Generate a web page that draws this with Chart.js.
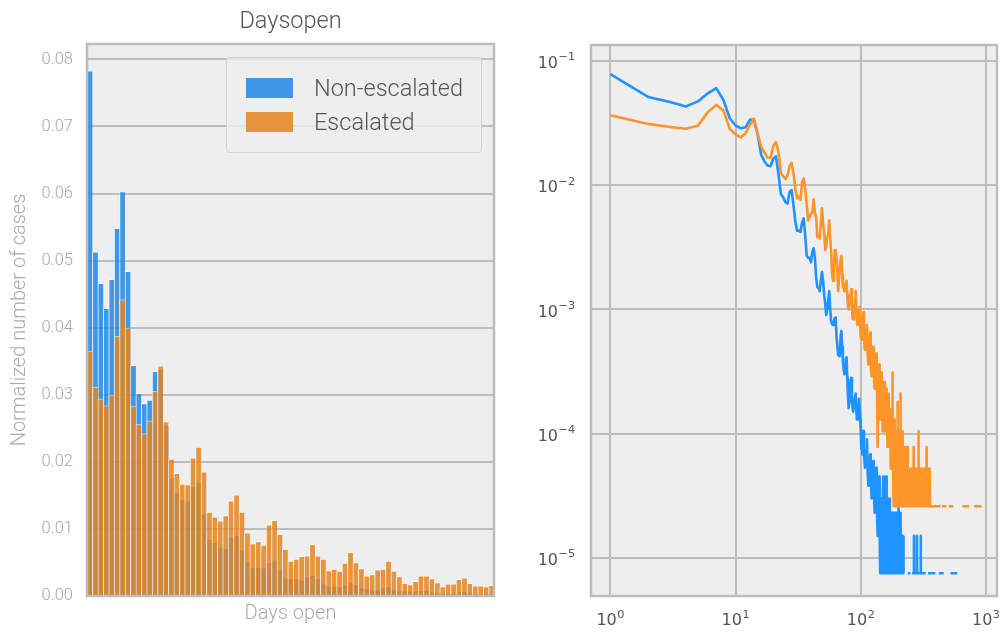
<!DOCTYPE html>
<html>
<head>
<meta charset="utf-8">
<script src="https://cdn.jsdelivr.net/npm/chart.js@4.4.1/dist/chart.umd.min.js"></script>
<style>
  html, body { margin: 0; padding: 0; background: #ffffff; }
  #page { position: relative; width: 1005px; height: 633px; overflow: hidden; }
  #histCanvas { position: absolute; left: 0; top: 0; }
  #logCanvas { position: absolute; left: 500px; top: 0; }
  #histLegend {
    position: absolute; left: 226px; top: 57px; width: 254px; height: 94px;
    border: 1px solid #d2d2d2; border-radius: 4px; background: rgba(238,238,238,0.8);
    font-family: Roboto, "Open Sans", sans-serif; font-weight: 300; font-size: 23.5px; color: #555;
  }
  .legend-item { position: absolute; left: 19px; height: 20px; display: flex; align-items: center; white-space: nowrap; }
  .legend-swatch { width: 47px; height: 20px; margin-right: 21px; flex: none; }
</style>
</head>
<body>
<div id="page">
  <canvas id="histCanvas" width="500" height="633"></canvas>
  <canvas id="logCanvas" width="505" height="633"></canvas>
  <div id="histLegend"></div>
</div>
<script>
// ---- data -------------------------------------------------------------
// Days open (1..75), one histogram bin per day
const daysOpen = [1,2,3,4,5,6,7,8,9,10,11,12,13,14,15,16,17,18,19,20,
  21,22,23,24,25,26,27,28,29,30,31,32,33,34,35,36,37,38,39,40,
  41,42,43,44,45,46,47,48,49,50,51,52,53,54,55,56,57,58,59,60,
  61,62,63,64,65,66,67,68,69,70,71,72,73,74,75];

// Share of cases closed after N days (days 1..75)
const nonEscalatedShare = [
  0.0783,0.0513,0.0466,0.0429,0.0472,0.0548,0.0603,0.0484,0.0344,0.0302,
  0.0287,0.0292,0.0335,0.0338,0.0255,0.0176,0.0155,0.0144,0.0142,0.0163,
  0.0170,0.0123,0.0085,0.0080,0.0073,0.0071,0.0088,0.0091,0.0069,0.0051,
  0.0043,0.0043,0.0042,0.0050,0.0054,0.0039,0.0027,0.0026,0.0026,0.0024,
  0.0029,0.0031,0.0026,0.0018,0.0015,0.0015,0.0014,0.0017,0.0020,0.0017,
  0.0013,0.0011,0.0009,0.0010,0.0012,0.0014,0.0010,0.0008,0.00076,0.00075,
  0.0008,0.00085,0.00086,0.0006,0.0005,0.00043,0.00042,0.00045,0.0006,0.00067,
  0.0005,0.00038,0.00033,0.0003,0.00034];
const escalatedShare = [
  0.0365,0.0311,0.0294,0.0284,0.0300,0.0387,0.0442,0.0400,0.0283,0.0256,
  0.0242,0.0261,0.0305,0.0343,0.0260,0.0204,0.0183,0.0167,0.0166,0.0206,
  0.0222,0.0185,0.0125,0.0118,0.0112,0.0120,0.0142,0.0151,0.0125,0.0094,
  0.0078,0.0081,0.0076,0.0106,0.0113,0.0092,0.0070,0.0052,0.0055,0.0059,
  0.0060,0.0077,0.0060,0.0055,0.0038,0.0040,0.0037,0.0049,0.0065,0.0050,
  0.0041,0.0030,0.0032,0.0039,0.0040,0.0052,0.0037,0.0029,0.0019,0.0017,
  0.0022,0.0030,0.0030,0.0026,0.0020,0.0014,0.0018,0.0018,0.0025,0.0027,
  0.0019,0.0015,0.0015,0.0014,0.0016];

// Daily shares beyond day 75 (first entry is day 76)
const longTailStartDay = 76;
const nonEscalatedLongTail = [
  4.0e-4,4.1e-4,2.8e-4,2.0e-4,1.6e-4,1.8e-4,2.2e-4,2.6e-4,2.8e-4,2.0e-4,
  1.6e-4,1.5e-4,1.5e-4,1.8e-4,2.0e-4,2.1e-4,1.6e-4,1.3e-4,1.3e-4,1.5e-4,
  1.7e-4,1.9e-4,1.9e-4,1.3e-4,1.05e-4,7.5e-5,9e-5,6.8e-5,8.3e-5,1.05e-4,
  7.5e-5,6e-5,5.3e-5,6e-5,6.8e-5,7.5e-5,9e-5,6e-5,4.5e-5,3.8e-5,
  4.5e-5,5.3e-5,6e-5,6.8e-5,4.5e-5,3.8e-5,3e-5,3.8e-5,4.5e-5,5.3e-5,
  6e-5,3.8e-5,3e-5,2.3e-5,3e-5,3.8e-5,4.5e-5,5.3e-5,3e-5,2.3e-5,
  1.5e-5,2.3e-5,3e-5,3.8e-5,4.5e-5,2.3e-5,1.5e-5,7.5e-6,1.5e-5,2.3e-5,
  3e-5,3e-5,1.5e-5,7.5e-6,2.3e-5,4.5e-5,7.5e-6,1.5e-5,3.8e-5,7.5e-6,
  7.5e-6,2.3e-5,1.5e-5,7.5e-6,4.5e-5,1.5e-5,7.5e-6,3e-5,7.5e-6,1.5e-5,
  7.5e-6,2.3e-5,1.5e-5,7.5e-6,1.5e-5,3e-5,7.5e-6,7.5e-6,2.3e-5,1.5e-5,
  7.5e-6,1.5e-5,2.3e-5,7.5e-6,1.5e-5,7.5e-6,2.3e-5,7.5e-6,1.5e-5,1.5e-5,
  7.5e-6,7.5e-6,2.3e-5,1.5e-5,7.5e-6,1.5e-5,7.5e-6,2.3e-5,7.5e-6,7.5e-6,
  1.5e-5,7.5e-6,1.5e-5,7.5e-6,3e-5,7.5e-6,1.5e-5,7.5e-6,7.5e-6,1.5e-5,
  7.5e-6,2.3e-5,7.5e-6,1.5e-5,7.5e-6,7.5e-6,1.5e-5,7.5e-6,1.5e-5,7.5e-6,
  7.5e-6,1.5e-5,7.5e-6,7.5e-6,1.5e-5];
const escalatedLongTail = [
  1.5e-3,1.7e-3,1.3e-3,1.05e-3,1.0e-3,1.1e-3,1.2e-3,1.35e-3,1.45e-3,1.1e-3,
  8.5e-4,8.3e-4,9e-4,1.0e-3,1.2e-3,1.4e-3,1.0e-3,8e-4,7.5e-4,7.8e-4,
  8.8e-4,1.0e-3,1.05e-3,7.5e-4,6e-4,5.7e-4,6.5e-4,7.5e-4,8.5e-4,9.5e-4,
  6.5e-4,5e-4,4.7e-4,5.2e-4,6e-4,7e-4,7.5e-4,5e-4,4e-4,3.6e-4,
  4.2e-4,4.7e-4,5.5e-4,6.5e-4,4.2e-4,3.1e-4,2.9e-4,3.4e-4,3.9e-4,4.4e-4,
  5e-4,3.4e-4,2.6e-4,2.3e-4,2.9e-4,3.1e-4,3.6e-4,4.4e-4,2.9e-4,2.1e-4,
  1.8e-4,7.8e-5,2.3e-4,2.9e-4,3.6e-4,2.3e-4,1.6e-4,1.3e-4,1.8e-4,2.3e-4,
  2.6e-4,3.1e-4,1.8e-4,1.3e-4,1.04e-4,1.6e-4,2.1e-4,2.3e-4,2.6e-4,1.6e-4,
  1.04e-4,1.3e-4,1.6e-4,1.8e-4,2.1e-4,2.3e-4,1.3e-4,1.04e-4,7.8e-5,1.3e-4,
  1.6e-4,1.8e-4,2.1e-4,1.04e-4,1.04e-4,7.8e-5,1.3e-4,5.2e-5,1.04e-4,1.56e-4,
  7.8e-5,5.2e-5,1.04e-4,3.1e-4,7.8e-5,5.2e-5,1.04e-4,2.6e-5,7.8e-5,5.2e-5,
  1.3e-4,5.2e-5,2.6e-5,7.8e-5,1.04e-4,5.2e-5,2.6e-5,7.8e-5,5.2e-5,1.04e-4,
  1.8e-4,5.2e-5,2.6e-5,5.2e-5,7.8e-5,2.6e-5,5.2e-5,1.04e-4,2.6e-5,5.2e-5,
  7.8e-5,2.6e-5,2.1e-4,5.2e-5,2.6e-5,5.2e-5,7.8e-5,2.6e-5,5.2e-5,2.6e-5,
  1.04e-4,2.6e-5,5.2e-5,7.8e-5,2.6e-5,
  5.2e-5,2.6e-5,5.2e-5,2.6e-5,2.6e-5,5.2e-5,2.6e-5,7.8e-5,2.6e-5,5.2e-5,
  2.6e-5,5.2e-5,2.6e-5,5.2e-5,7.8e-5,2.6e-5,5.2e-5,2.6e-5,2.6e-5,5.2e-5,
  2.6e-5,5.2e-5,2.6e-5,5.2e-5,2.6e-5,2.6e-5,5.2e-5,2.6e-5,5.2e-5,2.6e-5,
  5.2e-5,2.6e-5,2.6e-5,5.2e-5,2.6e-5,5.2e-5,2.6e-5,2.6e-5,5.2e-5,2.6e-5,
  5.2e-5,2.6e-5,5.2e-5,2.6e-5,7.8e-5,7.8e-5,2.6e-5,5.2e-5,2.6e-5,2.6e-5,
  5.2e-5,2.6e-5,5.2e-5,2.6e-5,2.6e-5,5.2e-5,2.6e-5,5.2e-5,2.6e-5,2.6e-5,
  5.2e-5,2.6e-5,2.6e-5,5.2e-5,2.6e-5,5.2e-5,2.6e-5,2.6e-5,5.2e-5,1.04e-4,
  2.6e-5,5.2e-5,2.6e-5,2.6e-5,5.2e-5,2.6e-5,2.6e-5,5.2e-5,2.6e-5,5.2e-5,
  2.6e-5,2.6e-5,5.2e-5,2.6e-5,2.6e-5,5.2e-5,2.6e-5,5.2e-5,2.6e-5,2.6e-5,
  5.2e-5,2.6e-5,2.6e-5,5.2e-5,2.6e-5,2.6e-5,5.2e-5,2.6e-5,2.6e-5,5.2e-5,
  2.6e-5,5.2e-5,2.6e-5,2.6e-5,2.6e-5,5.2e-5,2.6e-5,2.6e-5,5.2e-5,2.6e-5,
  2.6e-5,5.2e-5,2.6e-5,2.6e-5,2.6e-5,5.2e-5,2.6e-5,7.8e-5,2.6e-5,5.2e-5,
  2.6e-5,2.6e-5,2.6e-5,5.2e-5,2.6e-5,2.6e-5,5.2e-5,2.6e-5,2.6e-5,2.6e-5,
  2.6e-5,5.2e-5,2.6e-5,2.6e-5,2.6e-5,2.6e-5,5.2e-5,2.6e-5,2.6e-5,2.6e-5];

// Sparse far tail: [day, share]; null share = no cases that day (line breaks)
const nonEscalatedFarTail = [
  [228,null],[237,7.5e-6],[250,7.5e-6],[253,null],
  [257,7.5e-6],[265,7.5e-6],[266,1.5e-5],[267,7.5e-6],[280,7.5e-6],[281,1.5e-5],[282,7.5e-6],
  [300,7.5e-6],[301,1.5e-5],[302,7.5e-6],[330,7.5e-6],[338,null],
  [345,7.5e-6],[395,7.5e-6],[405,null],
  [420,7.5e-6],[460,7.5e-6],[490,null],
  [520,7.5e-6],[590,7.5e-6]];
const escalatedFarTail = [
  [361,2.6e-5],[434,2.6e-5],[440,null],[445,2.6e-5],[484,2.6e-5],[495,null],
  [505,2.6e-5],[549,2.6e-5],[600,null],[648,2.6e-5],[737,2.6e-5],[770,null],
  [803,2.6e-5],[922,2.6e-5]];

// Tick values and labels
const histTickValues = [0,0.01,0.02,0.03,0.04,0.05,0.06,0.07,0.08];
const histTickLabels = ['0.00','0.01','0.02','0.03','0.04','0.05','0.06','0.07','0.08'];
const logXTickValues = [1,10,100,1000];
const logXTickExponents = ['0','1','2','3'];
const logYTickValues = [1e-5,1e-4,1e-3,1e-2,1e-1];
const logYTickExponents = ['\u22125','\u22124','\u22123','\u22122','\u22121'];

const seriesNames = ['Non-escalated','Escalated'];

// ---- styling ----------------------------------------------------------
const BAR_BLUE = 'rgba(30,136,229,0.85)';
const BAR_ORANGE = 'rgba(229,132,29,0.85)';
const SWATCH_BLUE = 'rgb(61,151,230)';
const SWATCH_ORANGE = 'rgb(230,148,60)';
const LINE_BLUE = '#1f93ff';
const LINE_ORANGE = '#ff9429';
const PLOT_BG = '#eeeeee';
const GRID = '#bdbdbd';
const LIGHT_FONT = 'Roboto, "Open Sans", sans-serif';
const MATH_FONT = '"DejaVu Sans", sans-serif';

// grey panel behind the plot area and a frame around it
const plotPanel = {
  id: 'plotPanel',
  beforeDraw(chart) {
    const { ctx, chartArea: a } = chart;
    ctx.save();
    ctx.fillStyle = PLOT_BG;
    ctx.fillRect(a.left, a.top, a.right - a.left, a.bottom - a.top);
    ctx.restore();
  },
  afterDraw(chart) {
    const { ctx, chartArea: a } = chart;
    ctx.save();
    ctx.strokeStyle = GRID;
    ctx.lineWidth = 2.5;
    ctx.strokeRect(a.left, a.top, a.right - a.left, a.bottom - a.top);
    ctx.restore();
  }
};

// "10" with a raised exponent, placed at the log scales' tick positions
const powerTickLabels = {
  id: 'powerTickLabels',
  afterDraw(chart) {
    const { ctx, chartArea: a, scales } = chart;
    const baseFont = '16px ' + MATH_FONT;
    const expFont = '11.2px ' + MATH_FONT;
    const measure = (text, font) => { ctx.font = font; return ctx.measureText(text).width; };
    ctx.save();
    ctx.fillStyle = '#555555';
    ctx.textBaseline = 'alphabetic';
    ctx.textAlign = 'left';
    const draw = (exp, left, baseY, raise) => {
      ctx.font = baseFont;
      ctx.fillText('10', left, baseY);
      const w = ctx.measureText('10').width;
      ctx.font = expFont;
      ctx.fillText(exp, left + w + 0.5, baseY - raise);
    };
    logXTickValues.forEach((v, i) => {
      const px = scales.x.getPixelForValue(v);
      const w = measure('10', baseFont) + 0.5 + measure(logXTickExponents[i], expFont);
      draw(logXTickExponents[i], px - w / 2, a.bottom + 29, 7);
    });
    logYTickValues.forEach((v, i) => {
      const py = scales.y.getPixelForValue(v);
      const w = measure('10', baseFont) + 0.5 + measure(logYTickExponents[i], expFont);
      draw(logYTickExponents[i], a.left - 16 - w, py + 7.3, 7.8);
    });
    ctx.restore();
  }
};

// ---- left: overlapping histograms ------------------------------------
const barStyle = {
  grouped: false,
  barPercentage: 1.0,
  categoryPercentage: 1.0,
  borderWidth: { left: 1, right: 0, top: 1, bottom: 0 },
  borderColor: 'rgba(255,255,255,0.5)',
  borderSkipped: false
};

new Chart(document.getElementById('histCanvas'), {
  type: 'bar',
  data: {
    labels: daysOpen,
    datasets: [
      Object.assign({ label: seriesNames[0], data: nonEscalatedShare, backgroundColor: BAR_BLUE, order: 2 }, barStyle),
      Object.assign({ label: seriesNames[1], data: escalatedShare, backgroundColor: BAR_ORANGE, order: 1 }, barStyle)
    ]
  },
  options: {
    responsive: false,
    animation: false,
    devicePixelRatio: 1,
    layout: { padding: { left: 0, right: 6, top: 0, bottom: 0 } },
    plugins: {
      legend: { display: false },
      tooltip: { enabled: false },
      title: {
        display: true, text: 'Daysopen', fullSize: false, color: '#555',
        font: { family: LIGHT_FONT, size: 23.5, weight: '300' },
        padding: { top: 7.9, bottom: 7.9 }
      }
    },
    scales: {
      x: {
        type: 'category', offset: true,
        grid: { display: false }, border: { display: false },
        ticks: { display: false },
        title: {
          display: true, text: 'Days open', color: '#aaaaaa',
          font: { family: LIGHT_FONT, size: 20, weight: '300' },
          padding: { top: 0, bottom: 7 }
        },
        afterFit(scale) { scale.height = 37; }
      },
      y: {
        min: 0, max: 0.0823,
        grid: { color: GRID, lineWidth: 2, drawTicks: false },
        border: { display: false },
        ticks: {
          padding: 14, color: '#a8a8a8',
          font: { family: LIGHT_FONT, size: 16.5, weight: '300' },
          callback: (v, i) => histTickLabels[i]
        },
        afterBuildTicks(scale) { scale.ticks = histTickValues.map(v => ({ value: v })); },
        title: {
          display: true, text: 'Normalized number of cases', color: '#aaaaaa',
          font: { family: LIGHT_FONT, size: 20, weight: '300' },
          padding: { top: 8, bottom: 0 }
        },
        afterFit(scale) { scale.width = 87; }
      }
    }
  },
  plugins: [plotPanel]
});

// legend box inside the histogram
const legendBox = document.getElementById('histLegend');
[[seriesNames[0], SWATCH_BLUE, 20], [seriesNames[1], SWATCH_ORANGE, 54]].forEach(([name, color, top]) => {
  const item = document.createElement('div');
  item.className = 'legend-item';
  item.style.top = top + 'px';
  const sw = document.createElement('span');
  sw.className = 'legend-swatch';
  sw.style.background = color;
  const label = document.createElement('span');
  label.textContent = name;
  item.appendChild(sw);
  item.appendChild(label);
  legendBox.appendChild(item);
});

// ---- right: log-log daily distribution -------------------------------
function toPoints(head, tail, farTail) {
  const pts = head.map((v, i) => ({ x: daysOpen[i], y: v }));
  tail.forEach((v, i) => pts.push({ x: longTailStartDay + i, y: v }));
  farTail.forEach(([d, v]) => pts.push({ x: d, y: v }));
  return pts;
}

new Chart(document.getElementById('logCanvas'), {
  type: 'line',
  data: {
    datasets: [
      {
        label: seriesNames[0],
        data: toPoints(nonEscalatedShare, nonEscalatedLongTail, nonEscalatedFarTail),
        borderColor: LINE_BLUE, borderWidth: 2.6, pointRadius: 0,
        borderJoinStyle: 'round', spanGaps: false, order: 2
      },
      {
        label: seriesNames[1],
        data: toPoints(escalatedShare, escalatedLongTail, escalatedFarTail),
        borderColor: LINE_ORANGE, borderWidth: 2.6, pointRadius: 0,
        borderJoinStyle: 'round', spanGaps: false, order: 1
      }
    ]
  },
  options: {
    responsive: false,
    animation: false,
    devicePixelRatio: 1,
    layout: { padding: { left: 0, right: 8, top: 45, bottom: 0 } },
    plugins: { legend: { display: false }, tooltip: { enabled: false } },
    scales: {
      x: {
        type: 'logarithmic', min: 0.714, max: 1225,
        grid: { color: GRID, lineWidth: 2, drawTicks: false },
        border: { display: false },
        ticks: { display: false },
        afterBuildTicks(scale) { scale.ticks = logXTickValues.map(v => ({ value: v })); },
        afterFit(scale) { scale.height = 37; }
      },
      y: {
        type: 'logarithmic', min: 4.92e-6, max: 0.1343,
        grid: { color: GRID, lineWidth: 2, drawTicks: false },
        border: { display: false },
        ticks: { display: false },
        afterBuildTicks(scale) { scale.ticks = logYTickValues.map(v => ({ value: v })); },
        afterFit(scale) { scale.width = 91; }
      }
    }
  },
  plugins: [plotPanel, powerTickLabels]
});
</script>
</body>
</html>
